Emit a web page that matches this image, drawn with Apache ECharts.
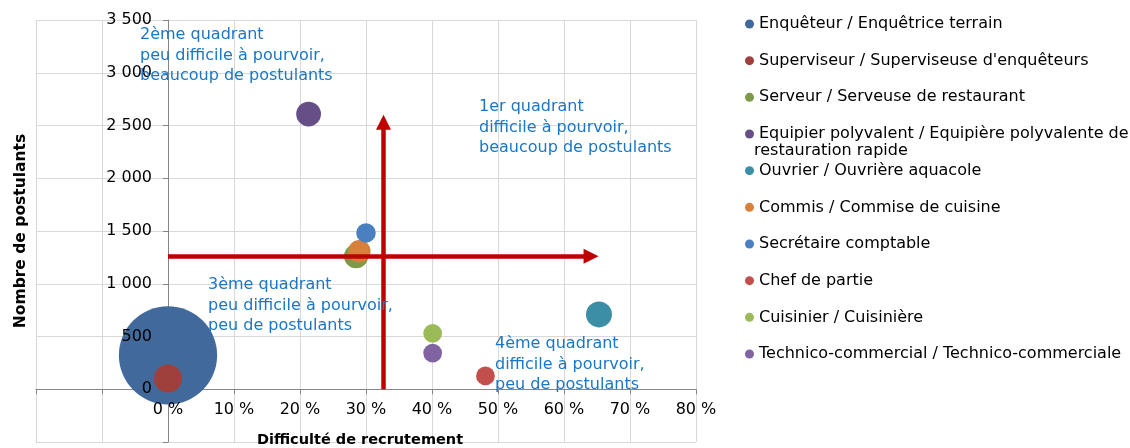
<!DOCTYPE html>
<html>
<head>
<meta charset="utf-8">
<script src="https://cdn.jsdelivr.net/npm/echarts@6/dist/echarts.min.js"></script>
<style>
html,body{margin:0;padding:0;background:#fff;}
#chart{width:1130px;height:448px;}
</style>
</head>
<body>
<div id="chart"></div>
<script>
var metiers = [
	'Enquêteur / Enquêtrice terrain',
	'Superviseur / Superviseuse d\'enquêteurs',
	'Serveur / Serveuse de restaurant',
	'Equipier polyvalent / Equipière polyvalente de restauration rapide',
	'Ouvrier / Ouvrière aquacole',
	'Commis / Commise de cuisine',
	'Secrétaire comptable',
	'Chef de partie',
	'Cuisinier / Cuisinière',
	'Technico-commercial / Technico-commerciale'
];
// difficulte de recrutement (%)
var difficulte = [0, 0, 28.5, 21.3, 65.3, 29.0, 30.0, 48.1, 40.1, 40.1];
// nombre de postulants
var postulants = [322, 101, 1261, 2608, 709, 1308, 1482, 126, 530, 343];
// taille des bulles
var taille = [330, 27, 20, 21, 23, 17, 13, 12, 12, 12];
var couleurs = ['#42699c','#9f403d','#7d9a46','#654f86','#3b8ea5','#d6803c','#4a7fc0','#c24f4c','#9bbb59','#8064a2'];

// fleches des quadrants
var flecheH = [[0, 1260], [64.1, 1260]];
var flecheV = [[32.65, 0], [32.65, 2530]];

var quadrants = [
	{texte:'2ème quadrant\npeu difficile à pourvoir,\nbeaucoup de postulants', x:140, y:25},
	{texte:'1er quadrant\ndifficile à pourvoir,\nbeaucoup de postulants', x:479, y:97},
	{texte:'3ème quadrant\npeu difficile à pourvoir,\npeu de postulants', x:208, y:275},
	{texte:'4ème quadrant\ndifficile à pourvoir,\npeu de postulants', x:495, y:334}
];

var police = 'DejaVu Sans';

function milliers(v){
	if(v < 0) return '';
	return String(v).replace(/\B(?=(\d{3})+(?!\d))/g, ' ');
}
function pourcent(v){
	if(v < 0) return '';
	return v + ' %';
}

var series = [{
	type:'line',
	data:[],
	z:1,
	silent:true,
	markLine:{
		silent:true,
		animation:false,
		symbol:['none','triangle'],
		symbolSize:15,
		label:{show:false},
		lineStyle:{color:'#c00000', width:4.5, type:'solid'},
		itemStyle:{color:'#c00000'},
		emphasis:{disabled:true},
		data:[
			[{coord:flecheH[0]},{coord:flecheH[1]}],
			[{coord:flecheV[0]},{coord:flecheV[1]}]
		]
	}
}];
for(var i = 0;i<metiers.length;i++){
	series.push({
		name:metiers[i],
		type:'scatter',
		z:2,
		symbol:'circle',
		symbolSize:function(d){ return Math.sqrt(d[2]) * 5.41; },
		itemStyle:{color:couleurs[i], opacity:1},
		data:[[difficulte[i], postulants[i], taille[i]]]
	});
}

var graphics = [];
for(var i = 0;i<quadrants.length;i++){
	graphics.push({
		type:'text', left:quadrants[i].x, top:quadrants[i].y, z:20,
		style:{text:quadrants[i].texte, fill:'#1a76c6', font:'16px "' + police + '"', lineHeight:20.5}
	});
}
graphics.push({
	type:'text', left:754, top:143, z:20,
	style:{text:'restauration rapide', fill:'#000', font:'16px "' + police + '"'}
});
// titres des axes
graphics.push({
	type:'text', x:360, y:440, z:20,
	style:{text:'Difficulté de recrutement', fill:'#000', font:'bold 14.5px "' + police + '"', align:'center', verticalAlign:'middle'}
});
graphics.push({
	type:'text', x:21, y:231, rotation:Math.PI/2, z:20,
	style:{text:'Nombre de postulants', fill:'#000', font:'bold 15.5px "' + police + '"', align:'center', verticalAlign:'middle'}
});

var grille = {left:36, right:434, top:20, bottom:6, containLabel:false, outerBoundsMode:'none'};

var chart = echarts.init(document.getElementById('chart'));
chart.setOption({
	animation:false,
	textStyle:{fontFamily:police},
	// grille 0 : traits et bulles, grille 1 : libelles par-dessus les bulles
	grid:[grille, grille],
	legend:{
		orient:'vertical',
		left:740, top:11,
		itemWidth:9, itemHeight:9, itemGap:20.67,
		icon:'circle',
		data:metiers,
		textStyle:{fontSize:16, color:'#000', fontFamily:police},
		formatter:function(name){
			if(name == metiers[3]) return 'Equipier polyvalent / Equipière polyvalente de';
			return name;
		}
	},
	xAxis:[{
		type:'value', min:-20, max:80, interval:10, gridIndex:0,
		axisLine:{onZero:true, lineStyle:{color:'#868686', width:1}},
		axisTick:{show:true, length:5, lineStyle:{color:'#868686'}},
		axisLabel:{show:false},
		splitLine:{show:true, lineStyle:{color:'#d9d9d9', width:1}}
	},{
		type:'value', min:-20, max:80, interval:10, gridIndex:1, z:10,
		position:'bottom', offset:-52,
		axisLine:{show:false, onZero:false},
		axisTick:{show:false},
		splitLine:{show:false},
		axisLabel:{show:true, margin:12, fontSize:16, color:'#000', formatter:pourcent, showMinLabel:true, showMaxLabel:true}
	}],
	yAxis:[{
		type:'value', min:-500, max:3500, interval:500, gridIndex:0,
		axisLine:{onZero:true, lineStyle:{color:'#868686', width:1}},
		axisTick:{show:true, length:5, lineStyle:{color:'#868686'}},
		axisLabel:{show:false},
		splitLine:{show:true, lineStyle:{color:'#d9d9d9', width:1}}
	},{
		type:'value', min:-500, max:3500, interval:500, gridIndex:1, z:10,
		position:'left', offset:-132,
		axisLine:{show:false, onZero:false},
		axisTick:{show:false},
		splitLine:{show:false},
		axisLabel:{show:true, margin:16, fontSize:16, color:'#000', formatter:milliers, showMinLabel:true, showMaxLabel:true}
	}],
	graphic:graphics,
	series:series
});
</script>
</body>
</html>
